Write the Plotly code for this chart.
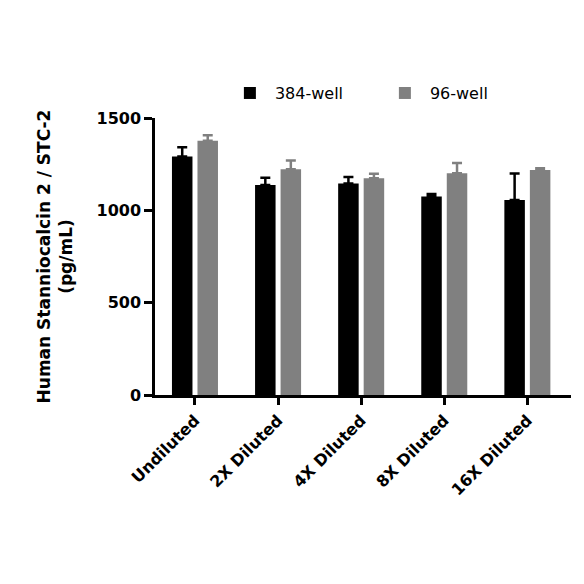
import plotly.graph_objects as go

categories = ["Undiluted", "2X Diluted", "4X Diluted", "8X Diluted", "16X Diluted"]
series_names = ["384-well", "96-well"]
means_384 = [1291, 1137, 1145, 1075, 1056]
err_384 = [51, 39, 35, 14, 144]
means_96 = [1377, 1223, 1174, 1201, 1218]
err_96 = [29, 47, 24, 55, 10]
y_ticks = [0, 500, 1000, 1500]

FONT = "DejaVu Sans, sans-serif"

fig = go.Figure()
for name, vals, errs, color in [
    (series_names[0], means_384, err_384, "#000000"),
    (series_names[1], means_96, err_96, "#808080"),
]:
    fig.add_trace(go.Bar(
        x=categories, y=vals, name=name,
        marker=dict(color=color, line=dict(width=0)),
        error_y=dict(type="data", array=errs, arrayminus=[0]*len(errs),
                     symmetric=False, color=color, thickness=2.5, width=5),
    ))

fig.update_layout(
    width=584, height=584,
    paper_bgcolor="white", plot_bgcolor="white",
    margin=dict(l=147, r=21, t=110, b=197),
    barmode="group", bargap=0.386, bargroupgap=0.196,
    font=dict(family=FONT, color="black"),
    showlegend=True,
    legend=dict(orientation="h", x=0.168, xanchor="left", y=1.09, yanchor="middle",
                font=dict(size=16, family=FONT, color="black"),
                entrywidth=100, entrywidthmode="pixels",
                itemwidth=40, bgcolor="rgba(0,0,0,0)"),
    xaxis=dict(
        type="category", range=[-0.481, 4.525], automargin=False,
        showline=True, linecolor="black", linewidth=2.5,
        ticks="outside", ticklen=7, tickwidth=2.5, tickcolor="black",
        tickangle=-45, tickfont=dict(size=16, family=FONT, color="black", weight="bold"),
        showgrid=False, zeroline=False,
    ),
    yaxis=dict(
        range=[0, 1500], tickvals=y_ticks, automargin=False,
        showline=True, linecolor="black", linewidth=2.5,
        ticks="outside", ticklen=8, tickwidth=2.5, tickcolor="black",
        tickfont=dict(size=16, family=FONT, color="black", weight="bold"),
        showgrid=False, zeroline=False,
        title=dict(text="<b>Human Stanniocalcin 2 / STC-2<br>(pg/mL)</b>",
                   font=dict(size=17, family=FONT, color="black"), standoff=20),
    ),
)

fig.write_html("out.html")
